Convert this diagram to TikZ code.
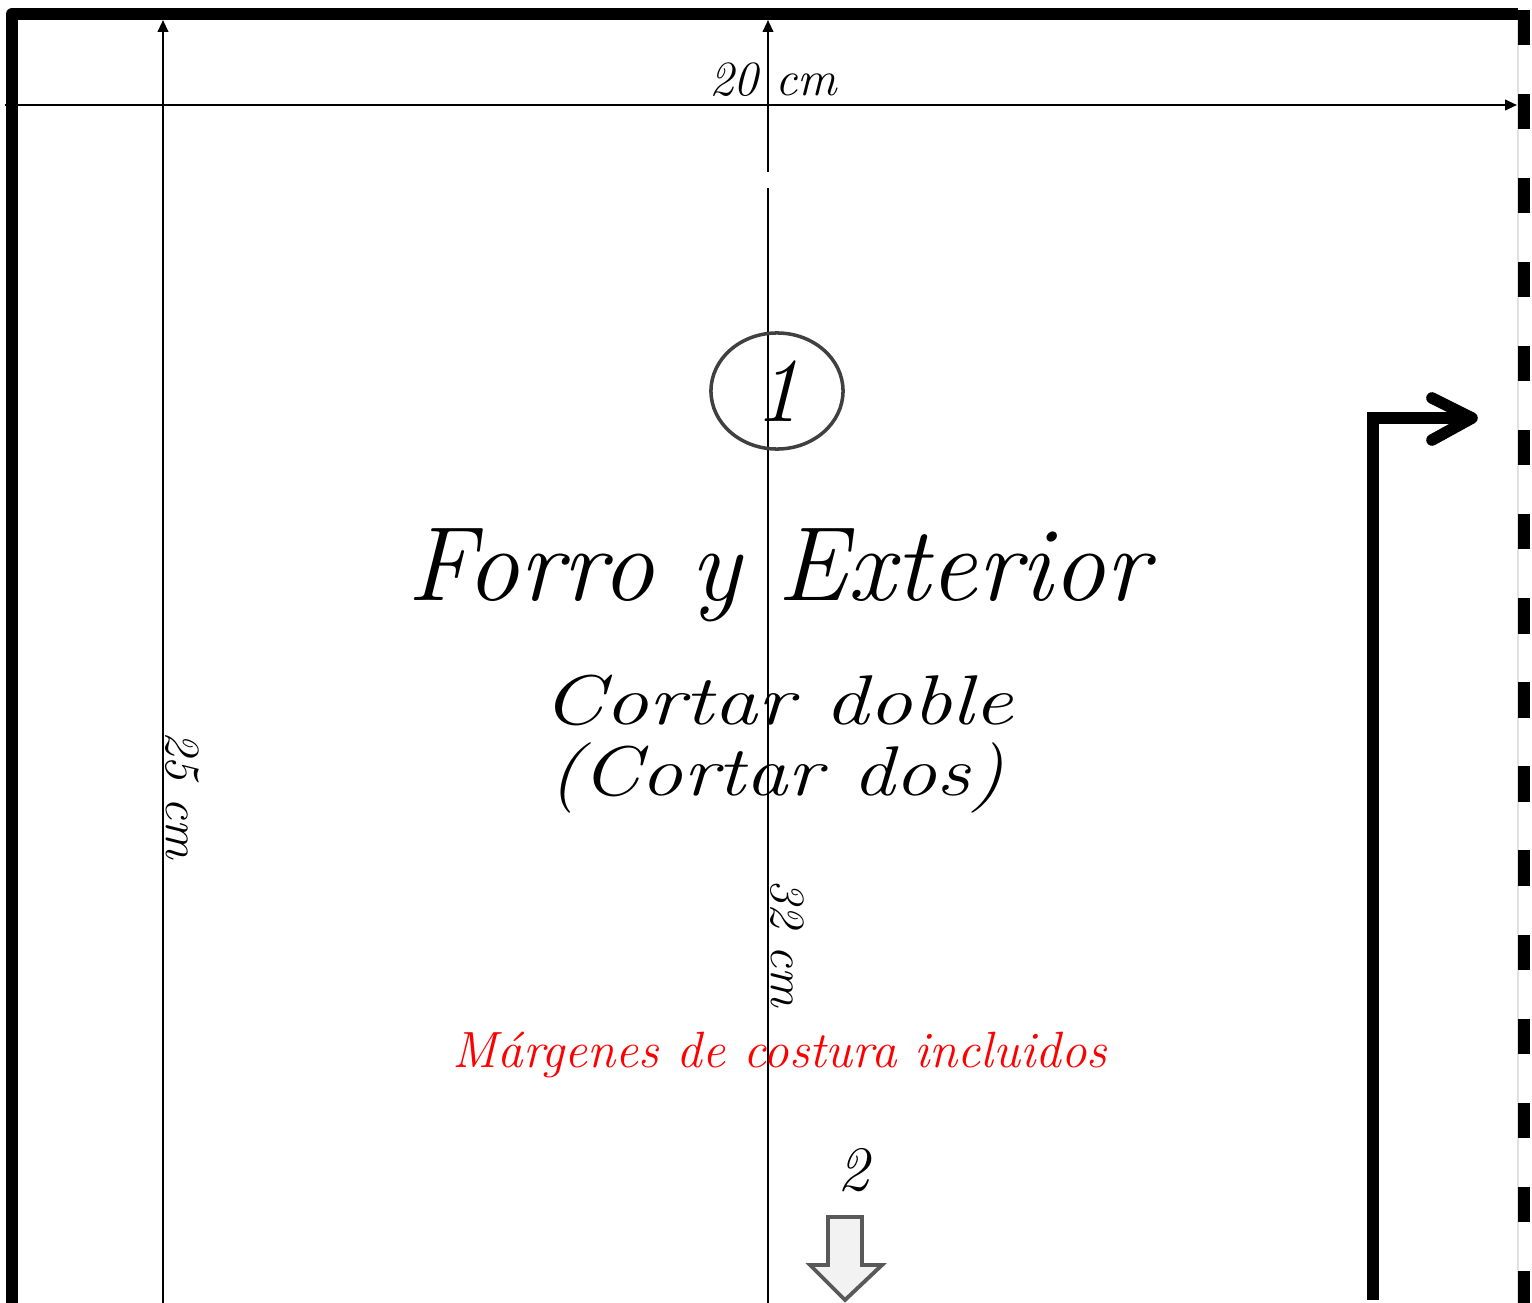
\documentclass[tikz,border=0pt]{standalone}
\usepackage{tikz}
\usetikzlibrary{arrows.meta,shapes.geometric}
\tikzset{
	borde/.style={line width=3.3pt, line join=round},
	cota/.style={line width=0.6pt, -{Triangle[length=3.4pt,width=3pt]}},
	letra/.style={inner sep=0pt, font=\itshape}
}
\newcommand{\ancho}[2]{\scalebox{#1}[1]{#2}}

\begin{document}
\begin{tikzpicture}[x=0.01cm, y=-0.01cm]
		%%%%% START %%%%%
		\useasboundingbox (0, 0) rectangle (1532, 1303);
		\clip (0, 0) rectangle (1532, 1303);
		
		\coordinate (esqA) at (12, 1310);
		\coordinate (esqB) at (12, 14);
		\coordinate (esqC) at (1518, 14);
		\coordinate (esqD) at (1524, 10);
		\coordinate (esqE) at (1524, 1310);
		
		\draw[borde] (esqA) -- (esqB) -- (esqC);
		\draw[black!12, line width=0.3pt] (1518, 20) -- (1518, 1303);
		\draw[line width=3.3pt, dash pattern=on 10pt off 13.9pt] (esqD) -- (esqE);
		
		% cotas
		\coordinate (anchoI) at (5, 105);
		\coordinate (anchoD) at (1517, 105);
		\draw[cota] (anchoI) -- (anchoD);
		\node[letra, font=\itshape\fontsize{14}{16}\selectfont] (medida) at (773, 80) {20 cm};
		
		\coordinate (altoA) at (163, 1310);
		\coordinate (altoB) at (163, 20);
		\draw[cota] (altoA) -- (altoB);
		\node[letra, rotate=-90, font=\itshape\fontsize{14}{16}\selectfont] (alto) at (182, 795) {25 cm};
		
		\coordinate (medioA) at (768, 1310);
		\coordinate (medioB) at (768, 188);
		\coordinate (medioC) at (768, 172);
		\coordinate (medioD) at (768, 20);
		\draw[line width=0.6pt] (medioA) -- (medioB);
		\draw[cota] (medioC) -- (medioD);
		\node[letra, rotate=-90, font=\itshape\fontsize{14}{16}\selectfont] (largo) at (787, 943) {32 cm};
		
		% textos
		\node[draw=black!75, line width=1pt, ellipse, minimum width=1.32cm, minimum height=1.16cm] (pieza) at (777, 391) {};
		\node[letra, font=\itshape\fontsize{26}{28}\selectfont] (uno) at (pieza) {1};
		\node[letra, font=\itshape\fontsize{30}{34}\selectfont] (titulo) at (778, 575) {Forro y Exterior};
		\node[letra, font=\itshape\fontsize{20}{22}\selectfont] (cortar) at (778, 700) {\ancho{1.25}{Cortar doble}};
		\node[letra, font=\itshape\fontsize{20}{22}\selectfont] (cortardos) at (776, 778) {\ancho{1.2}{(Cortar dos)}};
		\node[letra, red, font=\itshape\fontsize{14.5}{17}\selectfont] (margen) at (780, 1055) {Márgenes de costura incluidos};
		\node[letra, font=\itshape\fontsize{18}{20}\selectfont] (dos) at (853, 1170) {2};
		
		% flecha abajo
		\draw[fill=black!5, draw=black!65, line width=1.1pt] (828, 1217) -- (862, 1217) -- (862, 1265) -- (882, 1265) -- (845, 1300) -- (810, 1265) -- (828, 1265) -- cycle;
		
		% flecha hilo
		\coordinate (hiloA) at (1373, 1300);
		\coordinate (hiloB) at (1373, 418);
		\coordinate (hiloC) at (1472, 418);
		\draw[line width=3.3pt] (hiloA) -- (hiloB) -- (hiloC);
		\draw[line width=3.3pt, line cap=round, line join=round] (1432, 398) -- (hiloC) -- (1432, 440);
		
		%%%%% END %%%%%
\end{tikzpicture}
\end{document}
